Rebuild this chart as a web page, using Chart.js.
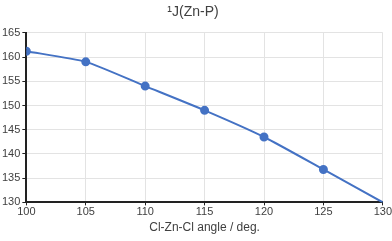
<!DOCTYPE html>
<html>
<head>
<meta charset="utf-8">
<script src="https://cdn.jsdelivr.net/npm/chart.js@4"></script>
<style>
  html, body { margin: 0; padding: 0; background: #fff; }
  #wrap { width: 392px; height: 241px; }
</style>
</head>
<body>
<div id="wrap"><canvas id="chart"></canvas></div>
<script>
// angle vs coupling constant
var angles = [100, 105, 110, 115, 120, 125, 130];
var coupling = [161.2, 159.0, 154.0, 149.0, 143.5, 136.8, 130.0];
var xTicks = [100, 105, 110, 115, 120, 125, 130];
var yTicks = [130, 135, 140, 145, 150, 155, 160, 165];

var pts = angles.map(function (a, i) {
  return { x: a, y: coupling[i] };
});

Chart.defaults.font.family = "'Liberation Sans', Arial, sans-serif";
Chart.defaults.color = '#404040';

new Chart(document.getElementById('chart'), {
  type: 'line',
  data: {
    datasets: [{
      data: pts,
      borderColor: '#4472C4',
      backgroundColor: '#4472C4',
      borderWidth: 2,
      pointRadius: [3.5, 3.5, 3.5, 3.5, 3.5, 3.5, 0],
      pointHoverRadius: 0,
      tension: 0.2,
      fill: false
    }]
  },
  options: {
    responsive: true,
    maintainAspectRatio: false,
    animation: false,
    layout: { padding: { left: 0, right: 6, top: 0, bottom: 6 } },
    plugins: {
      legend: { display: false },
      tooltip: { enabled: false },
      title: {
        display: true,
        text: '\u00B9J(Zn-P)',
        color: '#404040',
        font: { size: 14, weight: 'normal' },
        padding: { top: 4, bottom: 12 }
      }
    },
    scales: {
      x: {
        type: 'linear',
        min: 100,
        max: 130,
        afterBuildTicks: function (s) { s.ticks = xTicks.map(function (v) { return { value: v }; }); },
        ticks: { font: { size: 11 }, padding: 0, maxRotation: 0 },
        grid: { color: '#e3e3e3', tickColor: '#222', tickLength: 3 },
        border: { color: '#222', width: 2 },
        title: {
          display: true,
          text: 'Cl-Zn-Cl angle / deg.',
          font: { size: 12 },
          padding: { top: 2, bottom: 0 }
        }
      },
      y: {
        min: 130,
        max: 165,
        afterBuildTicks: function (s) { s.ticks = yTicks.map(function (v) { return { value: v }; }); },
        ticks: { font: { size: 11 }, padding: 2 },
        grid: { color: '#e3e3e3', tickColor: '#222', tickLength: 4 },
        border: { color: '#222', width: 2 }
      }
    }
  }
});
</script>
</body>
</html>
